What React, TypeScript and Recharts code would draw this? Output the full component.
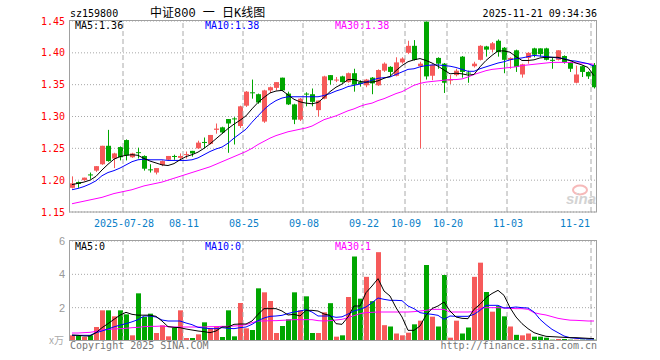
import React from "react";
import {
  ComposedChart,
  Bar,
  Line,
  XAxis,
  YAxis,
  CartesianGrid,
  ReferenceLine,
} from "recharts";

const dates = [
  "2025-07-15", "2025-07-16", "2025-07-17", "2025-07-18", "2025-07-21", "2025-07-22", "2025-07-23", "2025-07-24", "2025-07-25", "2025-07-28",
  "2025-07-29", "2025-07-30", "2025-07-31", "2025-08-01", "2025-08-04", "2025-08-05", "2025-08-06", "2025-08-07", "2025-08-08", "2025-08-11",
  "2025-08-12", "2025-08-13", "2025-08-14", "2025-08-15", "2025-08-18", "2025-08-19", "2025-08-20", "2025-08-21", "2025-08-22", "2025-08-25",
  "2025-08-26", "2025-08-27", "2025-08-28", "2025-08-29", "2025-09-01", "2025-09-02", "2025-09-03", "2025-09-04", "2025-09-05", "2025-09-08",
  "2025-09-09", "2025-09-10", "2025-09-11", "2025-09-12", "2025-09-15", "2025-09-16", "2025-09-17", "2025-09-18", "2025-09-19", "2025-09-22",
  "2025-09-23", "2025-09-24", "2025-09-25", "2025-09-26", "2025-09-29", "2025-09-30", "2025-10-09", "2025-10-10", "2025-10-13", "2025-10-14",
  "2025-10-15", "2025-10-16", "2025-10-17", "2025-10-20", "2025-10-21", "2025-10-22", "2025-10-23", "2025-10-24", "2025-10-27", "2025-10-28",
  "2025-10-29", "2025-10-30", "2025-10-31", "2025-11-03", "2025-11-04", "2025-11-05", "2025-11-06", "2025-11-07", "2025-11-10", "2025-11-11",
  "2025-11-12", "2025-11-13", "2025-11-14", "2025-11-17", "2025-11-18", "2025-11-19", "2025-11-20", "2025-11-21",
];

const opens = [
  1.188, 1.197, 1.2, 1.209, 1.215, 1.225, 1.254, 1.234, 1.252, 1.263,
  1.236, 1.244, 1.238, 1.217, 1.212, 1.224, 1.232, 1.238, 1.235, 1.24,
  1.246, 1.25, 1.26, 1.257, 1.279, 1.283, 1.296, 1.297, 1.285, 1.317,
  1.338, 1.335, 1.292, 1.341, 1.345, 1.361, 1.336, 1.319, 1.295, 1.336,
  1.335, 1.31, 1.328, 1.365, 1.357, 1.363, 1.354, 1.368, 1.354, 1.349,
  1.361, 1.349, 1.372, 1.378, 1.364, 1.385, 1.4, 1.411, 1.379, 1.449,
  1.364, 1.392, 1.383, 1.357, 1.365, 1.394, 1.369, 1.379, 1.389, 1.41,
  1.405, 1.419, 1.408, 1.389, 1.404, 1.366, 1.392, 1.407, 1.407, 1.407,
  1.389, 1.389, 1.395, 1.385, 1.353, 1.379, 1.37, 1.381,
];

const highs = [
  1.206, 1.198, 1.204, 1.212, 1.222, 1.254, 1.279, 1.243, 1.253, 1.264,
  1.243, 1.251, 1.239, 1.225, 1.219, 1.231, 1.238, 1.24, 1.242, 1.245,
  1.246, 1.262, 1.267, 1.271, 1.289, 1.284, 1.296, 1.299, 1.317, 1.34,
  1.358, 1.336, 1.342, 1.347, 1.354, 1.361, 1.339, 1.32, 1.329, 1.338,
  1.344, 1.325, 1.364, 1.365, 1.362, 1.364, 1.369, 1.375, 1.357, 1.359,
  1.362, 1.374, 1.385, 1.379, 1.393, 1.393, 1.419, 1.42, 1.386, 1.449,
  1.382, 1.393, 1.384, 1.365, 1.375, 1.395, 1.372, 1.386, 1.412, 1.411,
  1.417, 1.421, 1.409, 1.393, 1.405, 1.383, 1.401, 1.408, 1.407, 1.408,
  1.392, 1.404, 1.396, 1.386, 1.38, 1.38, 1.371, 1.384,
];

const lows = [
  1.187, 1.188, 1.199, 1.202, 1.213, 1.224, 1.229, 1.219, 1.231, 1.231,
  1.235, 1.234, 1.215, 1.212, 1.209, 1.222, 1.231, 1.232, 1.233, 1.234,
  1.237, 1.249, 1.25, 1.256, 1.273, 1.273, 1.243, 1.256, 1.282, 1.315,
  1.328, 1.32, 1.29, 1.337, 1.341, 1.34, 1.318, 1.288, 1.293, 1.316,
  1.316, 1.3, 1.327, 1.35, 1.354, 1.353, 1.353, 1.339, 1.347, 1.346,
  1.335, 1.348, 1.37, 1.363, 1.363, 1.383, 1.398, 1.388, 1.25, 1.358,
  1.357, 1.375, 1.337, 1.351, 1.363, 1.361, 1.353, 1.377, 1.388, 1.394,
  1.401, 1.394, 1.368, 1.375, 1.37, 1.361, 1.383, 1.393, 1.394, 1.388,
  1.375, 1.388, 1.383, 1.37, 1.352, 1.362, 1.359, 1.344,
];

const closes = [
  1.195, 1.194, 1.204, 1.208, 1.222, 1.254, 1.23, 1.242, 1.236, 1.239,
  1.242, 1.243, 1.218, 1.216, 1.219, 1.23, 1.238, 1.237, 1.238, 1.241,
  1.242, 1.259, 1.259, 1.271, 1.281, 1.275, 1.289, 1.296, 1.316, 1.339,
  1.337, 1.322, 1.341, 1.346, 1.354, 1.341, 1.319, 1.295, 1.328, 1.335,
  1.323, 1.325, 1.363, 1.357, 1.358, 1.354, 1.368, 1.35, 1.351, 1.358,
  1.352, 1.373, 1.383, 1.37, 1.385, 1.391, 1.411, 1.389, 1.383, 1.363,
  1.381, 1.383, 1.353, 1.358, 1.372, 1.37, 1.368, 1.383, 1.411, 1.405,
  1.415, 1.401, 1.389, 1.392, 1.378, 1.382, 1.4, 1.397, 1.398, 1.389,
  1.388, 1.404, 1.385, 1.375, 1.366, 1.37, 1.363, 1.346,
];

const ma5 = [
  1.193, 1.195, 1.197, 1.2, 1.206, 1.216, 1.225, 1.233, 1.237, 1.239,
  1.24, 1.239, 1.234, 1.23, 1.227, 1.224, 1.223, 1.226, 1.232, 1.237,
  1.24, 1.244, 1.25, 1.257, 1.265, 1.273, 1.281, 1.288, 1.294, 1.301,
  1.312, 1.322, 1.33, 1.337, 1.34, 1.341, 1.334, 1.327, 1.323, 1.321,
  1.32, 1.322, 1.33, 1.339, 1.346, 1.351, 1.358, 1.358, 1.355, 1.354,
  1.354, 1.356, 1.36, 1.363, 1.372, 1.38, 1.386, 1.389, 1.391, 1.388,
  1.384, 1.379, 1.373, 1.367, 1.368, 1.367, 1.365, 1.366, 1.378, 1.388,
  1.396, 1.403, 1.403, 1.401, 1.394, 1.388, 1.388, 1.389, 1.392, 1.393,
  1.393, 1.393, 1.39, 1.388, 1.384, 1.381, 1.377, 1.364,
];

const ma10 = [
  1.185, 1.187, 1.19, 1.194, 1.199, 1.207, 1.212, 1.215, 1.219, 1.224,
  1.229, 1.232, 1.233, 1.232, 1.232, 1.232, 1.231, 1.231, 1.231, 1.231,
  1.232, 1.235, 1.24, 1.245, 1.249, 1.252, 1.258, 1.266, 1.273, 1.28,
  1.291, 1.301, 1.311, 1.319, 1.325, 1.329, 1.331, 1.331, 1.331, 1.331,
  1.331, 1.331, 1.333, 1.336, 1.34, 1.343, 1.347, 1.349, 1.351, 1.354,
  1.357, 1.36, 1.361, 1.362, 1.366, 1.37, 1.374, 1.375, 1.378, 1.38,
  1.381, 1.381, 1.38, 1.379, 1.377, 1.374, 1.371, 1.371, 1.375, 1.378,
  1.381, 1.384, 1.386, 1.389, 1.391, 1.392, 1.394, 1.396, 1.395, 1.394,
  1.393, 1.392, 1.391, 1.388, 1.387, 1.385, 1.383, 1.379,
];

const ma30 = [
  1.163, 1.165, 1.167, 1.169, 1.171, 1.173, 1.176, 1.179, 1.181, 1.183,
  1.185, 1.188, 1.191, 1.193, 1.195, 1.197, 1.2, 1.203, 1.206, 1.209,
  1.212, 1.215, 1.218, 1.221, 1.225, 1.229, 1.233, 1.237, 1.241, 1.245,
  1.25, 1.256, 1.261, 1.266, 1.27, 1.273, 1.276, 1.278, 1.28, 1.282,
  1.285, 1.29, 1.295, 1.298, 1.301, 1.305, 1.309, 1.312, 1.316, 1.319,
  1.321, 1.325, 1.328, 1.332, 1.336, 1.339, 1.344, 1.349, 1.352, 1.354,
  1.355, 1.356, 1.357, 1.358, 1.358, 1.359, 1.362, 1.366, 1.369, 1.372,
  1.374, 1.375, 1.376, 1.377, 1.378, 1.38, 1.381, 1.382, 1.383, 1.384,
  1.385, 1.385, 1.385, 1.385, 1.384, 1.384, 1.383, 1.382,
];

// volume, in 10k units
const volumes = [
  0.34, 0.34, 0.24, 0.34, 0.84, 1.84, 1.84, 1.48, 1.84, 1.6,
  0.34, 2.86, 1.44, 1.64, 0.48, 0.94, 0.28, 0.8, 1.84, 0.18,
  0.18, 0.4, 1.12, 0.78, 0.88, 0.24, 1.84, 0.28, 2.28, 0.76,
  0.66, 3.16, 2.92, 2.4, 0.48, 0.9, 1.3, 2.92, 1.84, 2.68,
  0.48, 0.48, 1.72, 2.27, 0.26, 0.34, 2.64, 5.07, 2.54, 3.85,
  2.39, 5.33, 0.95, 0.87, 0.45, 0.34, 0.5, 1.0, 1.22, 4.56,
  1.46, 0.87, 3.96, 0.2, 1.22, 0.45, 0.81, 3.85, 4.7, 2.94,
  1.76, 2.09, 1.48, 0.87, 0.37, 0.34, 0.45, 0.26, 0.26, 0.2,
  0.08, 0.12, 0.12, 0.08, 0.08, 0.08, 0.08, 0.08,
];

const volMa5 = [
  0.36, 0.34, 0.3, 0.3, 0.5, 0.8, 1.04, 1.3, 1.55, 1.72,
  1.6, 1.55, 1.55, 1.55, 1.48, 1.2, 0.86, 0.82, 0.8, 0.72,
  0.66, 0.6, 0.56, 0.5, 0.6, 0.84, 0.84, 1.0, 1.02, 1.02,
  1.2, 1.6, 1.94, 1.94, 1.94, 1.8, 1.56, 1.6, 1.5, 1.84,
  1.84, 1.8, 1.62, 1.54, 1.04, 1.0, 1.44, 2.1, 2.1, 2.9,
  3.3, 3.74, 3.0, 2.7, 2.0, 1.44, 0.64, 0.64, 0.9, 1.54,
  1.95, 2.1, 2.34, 1.8, 1.44, 1.36, 1.34, 1.9, 2.2, 2.6,
  2.85, 3.04, 2.74, 2.0, 1.44, 1.04, 0.74, 0.5, 0.38, 0.28,
  0.26, 0.24, 0.22, 0.2, 0.2, 0.18, 0.16, 0.14,
];

const volMa10 = [
  0.34, 0.34, 0.34, 0.34, 0.5, 0.6, 0.72, 0.85, 0.95, 1.04,
  1.15, 1.28, 1.5, 1.5, 1.44, 1.26, 1.2, 1.2, 1.2, 1.08,
  0.98, 0.82, 0.78, 0.74, 0.74, 0.8, 0.76, 0.74, 0.8, 0.84,
  1.0, 1.22, 1.38, 1.48, 1.5, 1.54, 1.65, 1.74, 1.8, 1.88,
  1.74, 1.5, 1.5, 1.5, 1.42, 1.45, 1.62, 1.8, 1.9, 2.04,
  2.3, 2.58, 2.5, 2.44, 2.44, 2.42, 2.1, 1.94, 1.7, 1.64,
  1.6, 1.54, 1.3, 1.5, 1.48, 1.48, 1.48, 1.6, 1.84, 2.14,
  2.14, 2.14, 1.98, 2.0, 2.04, 2.0, 1.98, 1.74, 1.3, 0.98,
  0.7, 0.5, 0.3, 0.2, 0.16, 0.14, 0.12, 0.12,
];

const volMa30 = [
  0.48, 0.48, 0.5, 0.52, 0.58, 0.66, 0.7, 0.72, 0.74, 0.76,
  0.8, 0.82, 0.86, 0.88, 0.88, 0.9, 0.86, 0.84, 0.84, 0.84,
  0.84, 0.84, 0.84, 0.86, 0.86, 0.88, 0.88, 0.9, 0.92, 0.98,
  1.1, 1.2, 1.2, 1.22, 1.22, 1.24, 1.26, 1.28, 1.28, 1.28,
  1.28, 1.22, 1.2, 1.22, 1.26, 1.3, 1.4, 1.52, 1.64, 1.7,
  1.72, 1.74, 1.74, 1.74, 1.74, 1.74, 1.74, 1.76, 1.8, 1.84,
  1.9, 1.9, 1.9, 1.74, 1.74, 1.74, 1.74, 1.76, 1.96, 2.0,
  2.0, 2.0, 1.98, 1.96, 1.94, 1.94, 1.9, 1.7, 1.62, 1.56,
  1.46, 1.36, 1.3, 1.25, 1.24, 1.22, 1.2, 1.2,
];

const priceTicks = [1.15, 1.2, 1.25, 1.3, 1.35, 1.4, 1.45];
const volTicks = [0, 2, 4, 6];
const labelDates = [
  "2025-07-28", "2025-08-11", "2025-08-25", "2025-09-08", "2025-09-22",
  "2025-10-09", "2025-10-20", "2025-11-03", "2025-11-21",
];

const RED = "#f65a5a";
const GREEN = "#00a600";
const MONO = '"DejaVu Sans Mono", "Liberation Mono", monospace';
const GRID = "#a8a8a8";

const rows = dates.map((date, i) => ({
  date,
  open: opens[i],
  high: highs[i],
  low: lows[i],
  close: closes[i],
  range: [lows[i], highs[i]],
  up: closes[i] >= opens[i],
  ma5: ma5[i],
  ma10: ma10[i],
  ma30: ma30[i],
  vol: volumes[i],
  vma5: volMa5[i],
  vma10: volMa10[i],
  vma30: volMa30[i],
}));

function Candle(props: any) {
  const { x, y, width, height, payload } = props;
  if (x == null || y == null || !payload) return null;
  const top = Math.min(y, y + height);
  const h = Math.abs(height);
  const { open, close, high, low, up } = payload;
  const span = high - low || 1;
  const py = (v: number) => top + ((high - v) / span) * h;
  const color = up ? RED : GREEN;
  const bx = Math.floor(x + width / 2) - 2;
  const bodyTop = py(Math.max(open, close));
  const bodyBot = py(Math.min(open, close));
  return (
    <g>
      <line x1={bx + 2.5} x2={bx + 2.5} y1={top} y2={top + h} stroke={color} strokeWidth={1} />
      <rect x={bx} y={bodyTop} width={5} height={Math.max(1, bodyBot - bodyTop)} fill={color} />
    </g>
  );
}

function VolumeBar(props: any) {
  const { x, y, width, height, payload } = props;
  if (x == null || y == null || !payload) return null;
  const bx = Math.floor(x + width / 2) - 2;
  return <rect x={bx} y={y} width={5} height={Math.max(0, height)} fill={payload.up ? RED : GREEN} />;
}

function DateTick(props: any) {
  const { x, y, payload } = props;
  const value: string = payload.value;
  const last = value === labelDates[labelDates.length - 1];
  const text = value === labelDates[0] ? value : value.slice(5);
  return (
    <text
      x={last ? x - 4 : x - 2}
      y={y + 13}
      textAnchor={last ? "end" : "middle"}
      fill="#0a80c8"
      fontSize={10}
      fontFamily={MONO}
    >
      {text}
    </text>
  );
}

function dashedLines() {
  return labelDates.map((d) => (
    <ReferenceLine key={d} x={d} position="start" stroke="#aaaaaa" strokeDasharray="5 3" />
  ));
}

export default function App() {
  return (
    <div
      style={{
        position: "absolute",
        left: 0,
        top: 0,
        width: 660,
        height: 360,
        background: "#fff",
        overflow: "hidden",
      }}
    >
      <div style={{ position: "absolute", left: 0, top: 0 }}>
        <ComposedChart width={660} height={230} data={rows} margin={{ top: 21, right: 63, left: 0, bottom: 0 }}>
          <CartesianGrid vertical={false} stroke={GRID} strokeDasharray="1 2" />
          <XAxis
            dataKey="date"
            ticks={labelDates}
            interval={0}
            tick={<DateTick />}
            tickLine={false}
            axisLine={false}
            tickSize={0}
            height={18}
          />
          <YAxis
            type="number"
            domain={[1.15, 1.45]}
            ticks={priceTicks}
            width={69}
            tickLine={false}
            axisLine={false}
            tickSize={0}
            tickMargin={4}
            allowDataOverflow
            tick={{ fill: "#ff0000", fontSize: 10, fontFamily: MONO }}
            tickFormatter={(v: number) => v.toFixed(2)}
          />
          {dashedLines()}
          <Bar dataKey="range" barSize={5} shape={(p: any) => <Candle {...p} />} isAnimationActive={false} />
          <Line type="linear" dataKey="ma30" stroke="#ff00ff" strokeWidth={1} dot={false} isAnimationActive={false} />
          <Line type="linear" dataKey="ma10" stroke="#0000ff" strokeWidth={1} dot={false} isAnimationActive={false} />
          <Line type="linear" dataKey="ma5" stroke="#000000" strokeWidth={1} dot={false} isAnimationActive={false} />
        </ComposedChart>
      </div>

      <div style={{ position: "absolute", left: 0, top: 230 }}>
        <ComposedChart width={660} height={111} data={rows} margin={{ top: 11, right: 63, left: 0, bottom: 0 }}>
          <CartesianGrid vertical={false} stroke={GRID} strokeDasharray="1 2" />
          <XAxis dataKey="date" hide height={0} />
          <YAxis
            type="number"
            domain={[0, 6]}
            ticks={volTicks}
            width={69}
            tickLine={false}
            axisLine={false}
            tickSize={0}
            tickMargin={4}
            tick={{ fill: "#999999", fontSize: 11, fontFamily: "Arial, 'Liberation Sans', sans-serif" }}
            tickFormatter={(v: number) => (v === 0 ? "" : String(v))}
          />
          {dashedLines()}
          <Bar dataKey="vol" barSize={5} shape={(p: any) => <VolumeBar {...p} />} isAnimationActive={false} />
          <Line type="linear" dataKey="vma30" stroke="#ff00ff" strokeWidth={1} dot={false} isAnimationActive={false} />
          <Line type="linear" dataKey="vma10" stroke="#0000ff" strokeWidth={1} dot={false} isAnimationActive={false} />
          <Line type="linear" dataKey="vma5" stroke="#000000" strokeWidth={1} dot={false} isAnimationActive={false} />
        </ComposedChart>
      </div>

      <svg
        width={660}
        height={360}
        style={{ position: "absolute", left: 0, top: 0, pointerEvents: "none" }}
      >
        <rect x={69.5} y={20.5} width={527} height={191.5} fill="none" stroke="#a0a0a0" />
        <rect x={69.5} y={240.5} width={527} height={100} fill="none" stroke="#a0a0a0" />

        <text x={70} y={16.5} fontSize={10} fontFamily={MONO} fill="#000">sz159800</text>
        <text x={150} y={16.5} fontSize={12} fontFamily={'"Liberation Mono", "Noto Sans CJK SC", sans-serif'} fill="#000">
          中证800 一 日K线图
        </text>
        <text x={597} y={16.5} textAnchor="end" fontSize={10} fontFamily={MONO} fill="#000">
          2025-11-21 09:34:36
        </text>

        <text x={75} y={29} fontSize={10} fontFamily={MONO} fill="#000">MA5:1.36</text>
        <text x={205} y={29} fontSize={10} fontFamily={MONO} fill="#0000ff">MA10:1.38</text>
        <text x={335} y={29} fontSize={10} fontFamily={MONO} fill="#ff00ff">MA30:1.38</text>

        <text x={75} y={250} fontSize={10} fontFamily={MONO} fill="#000">MA5:0</text>
        <text x={205} y={250} fontSize={10} fontFamily={MONO} fill="#0000ff">MA10:0</text>
        <text x={335} y={250} fontSize={10} fontFamily={MONO} fill="#ff00ff">MA30:1</text>

        <g opacity={0.55}>
          <ellipse cx={580} cy={190} rx={7} ry={4.5} fill="none" stroke="#f08080" strokeWidth={2} />
          <text x={566} y={204} fontSize={15} fontStyle="italic" fontWeight="bold" fontFamily="Arial, 'Liberation Sans', sans-serif" fill="#b0b0b0">
            sina
          </text>
        </g>

        <text x={49} y={344} fontSize={10} fontFamily={'"Noto Sans CJK SC", sans-serif'} fill="#aaaaaa">x万</text>
        <text x={70} y={349} fontSize={10} fontFamily={MONO} fill="#777777">Copyright 2025 SINA.COM</text>
        <text x={597} y={349} textAnchor="end" fontSize={10} fontFamily={MONO} fill="#777777">
          http://finance.sina.com.cn
        </text>
      </svg>
    </div>
  );
}
